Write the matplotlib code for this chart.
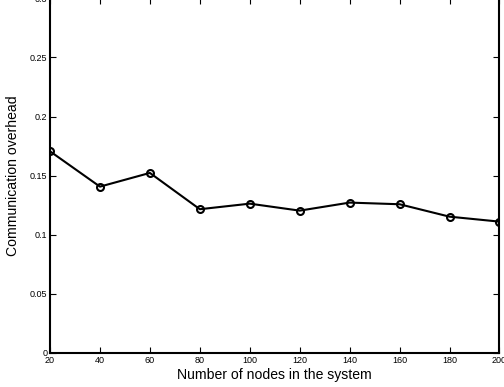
import matplotlib
matplotlib.use('Agg')
import matplotlib.pyplot as plt

nodes = [20, 40, 60, 80, 100, 120, 140, 160, 180, 200]
overhead = [0.1706, 0.1407, 0.1523, 0.1216, 0.1263, 0.1204, 0.1272, 0.1258, 0.1153, 0.1111]
y_ticks = [0, 0.05, 0.1, 0.15, 0.2, 0.25, 0.3]
y_labels = ['0', '0.05', '0.1', '0.15', '0.2', '0.25', '0.3']

plt.rcParams['font.family'] = ['Liberation Sans', 'DejaVu Sans']

fig = plt.figure(figsize=(5.04, 3.87), dpi=100)
ax = fig.add_axes([0.0992, 0.0879, 0.8918, 0.9165])

ax.plot(nodes, overhead, color='black', linewidth=1.5, marker='o',
        markersize=5, markerfacecolor='none', markeredgewidth=1.5)

ax.set_xlim(20, 200)
ax.set_ylim(0, 0.3)
ax.set_xticks(nodes)
ax.set_yticks(y_ticks)
ax.set_yticklabels(y_labels)
ax.tick_params(direction='in', top=True, right=True, labelsize=6.5,
               length=4, width=0.8, pad=2)
for s in ax.spines.values():
    s.set_linewidth(1.5)

ax.set_xlabel('Number of nodes in the system', fontsize=10.1, labelpad=2)
ax.set_ylabel('Communication overhead', fontsize=10.1)
# anchor is the bottom edge of the rotated text, ~20 px from the left
ax.yaxis.set_label_coords(-0.066, 0.5)

fig.savefig('out.png', dpi=100)
